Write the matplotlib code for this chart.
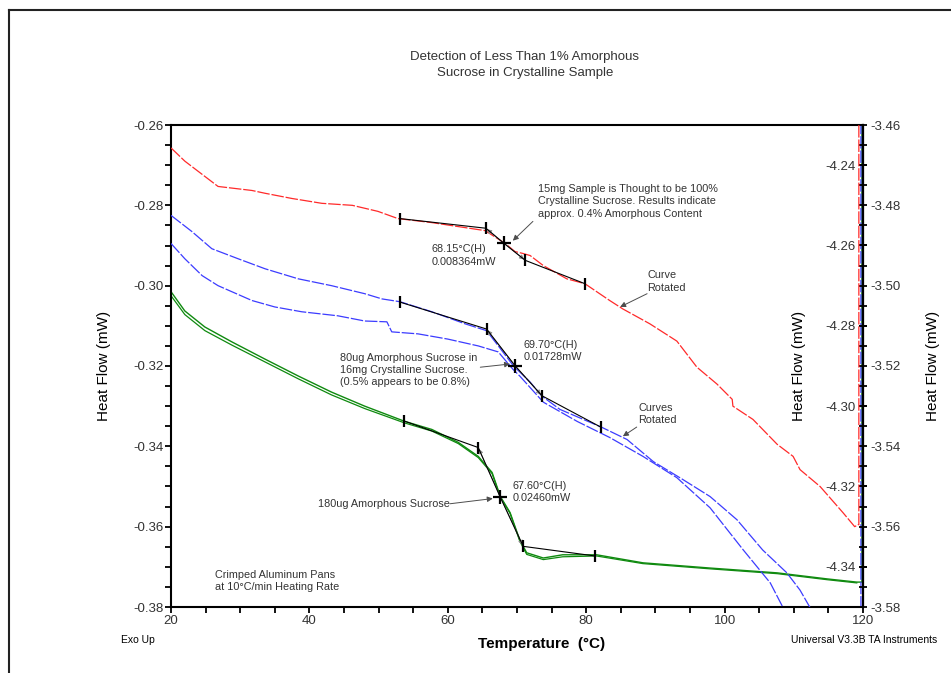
import matplotlib
matplotlib.use("Agg")
import matplotlib.pyplot as plt
from matplotlib.ticker import MultipleLocator, FormatStrFormatter

plt.rcParams['font.family'] = ['Liberation Sans', 'DejaVu Sans']

# 180ug amorphous sucrose (left axis, two runs)
green_t = [20, 22, 24.9, 28.8, 33.6, 38.4, 43.2, 48.0, 53.8, 57.7, 61.5, 64.4, 66.4, 67.6,
           69.0, 70.4, 71.4, 73.8, 76.6, 81.5, 88.2, 97.9, 107.6, 114.8, 119.1, 119.85, 119.85]
green_a = [-0.3015, -0.3063, -0.3103, -0.3140, -0.3183, -0.3225, -0.3265, -0.3300, -0.3338,
           -0.3358, -0.3390, -0.3425, -0.3465, -0.3525, -0.3565, -0.3633, -0.3665, -0.3678,
           -0.3670, -0.3670, -0.3690, -0.3703, -0.3715, -0.3730, -0.3738, -0.3738, -0.25]
green_b = [-0.3025, -0.3072, -0.3112, -0.3148, -0.3190, -0.3232, -0.3272, -0.3306, -0.3342,
           -0.3362, -0.3393, -0.3428, -0.3468, -0.3527, -0.3567, -0.3636, -0.3669, -0.3682,
           -0.3675, -0.3673, -0.3692, -0.3705, -0.3717, -0.3732, -0.3740, -0.3740, -0.3740]
green_marks_t = [53.7, 64.4, 67.6, 70.9, 81.3]
green_marks_y = [-0.3337, -0.3403, -0.3527, -0.3649, -0.3673]

# 80ug in 16mg crystalline (inner right axis, two runs)
blue_t_a = [20, 23, 25.9, 29.7, 33.6, 38.4, 43.2, 48.0, 50.5, 53.1, 57.7, 62.5, 65.6, 67.3,
            69.5, 71.9, 73.6, 76.2, 82.3, 85.9, 89.7, 94.0, 97.9, 101.8, 105.5, 109.0, 110.9,
            112.3, 113.0, 119.7, 119.7]
blue_a = [-4.2525, -4.2565, -4.2608, -4.2633, -4.2658, -4.2683, -4.2700, -4.2720, -4.2733,
          -4.2740, -4.2765, -4.2795, -4.2812, -4.2850, -4.2900, -4.2940, -4.2975, -4.3008,
          -4.3053, -4.3083, -4.3138, -4.3183, -4.3225, -4.3283, -4.3358, -4.3415, -4.3458,
          -4.3500, -4.3520, -4.3600, -4.2000]
blue_t_b = [20, 22, 24.5, 26.8, 31.7, 35.0, 38.9, 44.1, 48.0, 51.2, 51.9, 55.7, 60.0, 64.4,
            67.3, 69.4, 70.4, 73.8, 78.7, 83.4, 88.2, 93.1, 97.9, 102.7, 106.6, 108.4, 109.0]
blue_b = [-4.2595, -4.2633, -4.2675, -4.2700, -4.2737, -4.2753, -4.2765, -4.2775, -4.2788,
          -4.2790, -4.2815, -4.2820, -4.2833, -4.2850, -4.2865, -4.2908, -4.2925, -4.2990,
          -4.3038, -4.3078, -4.3125, -4.3178, -4.3253, -4.3358, -4.3440, -4.3500, -4.3520]
blue_marks_t = [53.1, 65.6, 69.7, 73.6, 82.2]
blue_marks_y = [-4.2741, -4.2808, -4.2899, -4.2974, -4.3053]

# 15mg crystalline sample (outer right axis)
red_t = [20, 22, 23.9, 26.8, 31.7, 33.6, 37.5, 41.8, 46.2, 49.9, 52.8, 57.7, 65.4, 68.3,
         69.7, 70.9, 71.9, 73.8, 77.2, 79.8, 83.4, 85.3, 89.2, 93.1, 96.0, 98.9, 101.1,
         101.2, 104.1, 107.6, 109.9, 110.9, 113.8, 117.1, 118.8, 119.3, 119.4, 119.4]
red_y = [-3.4657, -3.4690, -3.4715, -3.4753, -3.4763, -3.4770, -3.4783, -3.4795, -3.4800,
         -3.4815, -3.4833, -3.4843, -3.4863, -3.4895, -3.4915, -3.4920, -3.4925, -3.4950,
         -3.4983, -3.4995, -3.5037, -3.5058, -3.5095, -3.5138, -3.5203, -3.5245, -3.5283,
         -3.5300, -3.5333, -3.5395, -3.5425, -3.5458, -3.5500, -3.5565, -3.5600, -3.5595,
         -3.5595, -3.4500]
red_marks_t = [53.1, 65.5, 68.15, 71.2, 79.8]
red_marks_y = [-3.4833, -3.4857, -3.4895, -3.4937, -3.4995]

RED = '#ff2a2a'
BLUE = '#3c3cff'
GREEN = '#0f8a0f'
TXT = '#333333'

fig = plt.figure(figsize=(9.51, 6.73), dpi=100)
ax = fig.add_axes([171 / 951, 66 / 673, 692 / 951, 482 / 673])
ax2 = ax.twinx()
ax3 = ax.twinx()
for a in (ax2, ax3):
    a.patch.set_visible(False)

# left axis
ax.set_xlim(20, 120)
ax.set_ylim(-0.38, -0.26)
ax.xaxis.set_major_locator(MultipleLocator(20))
ax.xaxis.set_minor_locator(MultipleLocator(5))
ax.yaxis.set_major_locator(MultipleLocator(0.02))
ax.yaxis.set_minor_locator(MultipleLocator(0.005))
ax.yaxis.set_major_formatter(FormatStrFormatter('%.2f'))
ax.tick_params(which='both', direction='out', length=4, width=1.3, colors='black',
               labelcolor=TXT, labelsize=9.5, pad=1.5)
for s in ax.spines.values():
    s.set_linewidth(1.5)

# inner right axis: labels on the left of the right spine
ax2.set_ylim(-4.35, -4.23)
for s in ('right', 'top', 'bottom'):
    ax2.spines[s].set_visible(False)
ax2.spines['left'].set_position(('axes', 1.0))
ax2.spines['left'].set_linewidth(1.5)
ax2.yaxis.tick_left()
ax2.yaxis.set_label_position('left')
ax2.yaxis.set_major_locator(MultipleLocator(0.02))
ax2.yaxis.set_major_formatter(FormatStrFormatter('%.2f'))
ax2.tick_params(direction='inout', length=6, width=1.3, labelcolor=TXT, labelsize=9.5, pad=2)

# outer right axis
ax3.set_ylim(-3.58, -3.46)
for s in ('left', 'top', 'bottom'):
    ax3.spines[s].set_visible(False)
ax3.spines['right'].set_linewidth(1.5)
ax3.yaxis.set_major_locator(MultipleLocator(0.02))
ax3.yaxis.set_minor_locator(MultipleLocator(0.005))
ax3.yaxis.set_major_formatter(FormatStrFormatter('%.2f'))
ax3.tick_params(which='both', direction='inout', length=6, width=1.3, labelcolor=TXT,
                labelsize=9.5, pad=2)

# curves
ax.plot(green_t[:-2], green_b[:-2], color=GREEN, lw=0.9)
ax.plot(green_t, green_a, color=GREEN, lw=1.0)
ax2.plot(blue_t_b, blue_b, color=BLUE, lw=0.9, ls=(0, (10, 1.5)))
ax2.plot(blue_t_a, blue_a, color=BLUE, lw=0.9, ls=(0, (10, 1.5)))
ax3.plot(red_t, red_y, color=RED, lw=0.9, ls=(0, (10, 1.5)))


def onset(a, mt, my):
    a.plot(mt, my, color='black', lw=0.8, zorder=5)
    a.plot([mt[0], mt[1], mt[3], mt[4]], [my[0], my[1], my[3], my[4]], ls='none',
           marker='|', ms=9, mew=1.6, color='black', zorder=6)
    a.plot(mt[2], my[2], marker='+', ms=10, mew=1.6, color='black', zorder=6)
    for k in (1, 3):
        a.annotate('', xy=(mt[k], my[k]), xytext=(mt[2], my[2]),
                   arrowprops=dict(arrowstyle='-|>', color='0.55', lw=0.6,
                                   mutation_scale=7, shrinkA=0, shrinkB=1), zorder=4)


onset(ax, green_marks_t, green_marks_y)
onset(ax2, blue_marks_t, blue_marks_y)
onset(ax3, red_marks_t, red_marks_y)

# annotations (placed in left-axis units)
fs = 7.8
arr = dict(arrowstyle='-|>', color='0.3', lw=0.7, mutation_scale=8, shrinkA=0, shrinkB=0)
ax.text(57.7, -0.2925, '68.15\u00b0C(H)\n0.008364mW', fontsize=fs, color=TXT,
        va='center', linespacing=1.3)
ax.text(73.0, -0.2790, '15mg Sample is Thought to be 100%\nCrystalline Sucrose. Results indicate\n'
        'approx. 0.4% Amorphous Content', fontsize=fs, color=TXT, va='center', linespacing=1.3)
ax.annotate('', xy=(69.4, -0.2888), xytext=(72.3, -0.2840), arrowprops=arr)
ax.text(88.8, -0.2990, 'Curve\nRotated', fontsize=fs, color=TXT, va='center', linespacing=1.3)
ax.annotate('', xy=(84.9, -0.3053), xytext=(88.8, -0.3020), arrowprops=arr)
ax.text(70.9, -0.3162, '69.70\u00b0C(H)\n0.01728mW', fontsize=fs, color=TXT,
        va='center', linespacing=1.3)
ax.text(44.4, -0.3210, '80ug Amorphous Sucrose in\n16mg Crystalline Sucrose.\n'
        '(0.5% appears to be 0.8%)', fontsize=fs, color=TXT, va='center', linespacing=1.3)
ax.annotate('', xy=(69.0, -0.3195), xytext=(64.7, -0.3203), arrowprops=arr)
ax.text(87.5, -0.3320, 'Curves\nRotated', fontsize=fs, color=TXT, va='center', linespacing=1.3)
ax.annotate('', xy=(85.3, -0.3375), xytext=(87.3, -0.3352), arrowprops=arr)
ax.text(69.4, -0.3513, '67.60\u00b0C(H)\n0.02460mW', fontsize=fs, color=TXT,
        va='center', linespacing=1.3)
ax.text(60.3, -0.3543, '180ug Amorphous Sucrose', fontsize=fs, color=TXT,
        va='center', ha='right')
ax.annotate('', xy=(66.5, -0.3530), xytext=(60.3, -0.3543), arrowprops=arr)
ax.text(26.4, -0.3735, 'Crimped Aluminum Pans\nat 10\u00b0C/min Heating Rate', fontsize=fs,
        color=TXT, va='center', linespacing=1.3)

# axis labels
ax.set_ylabel('Heat Flow (mW)', fontsize=11, color='black')
ax.yaxis.set_label_coords(-0.0865, 0.5)
ax2.set_ylabel('Heat Flow (mW)', fontsize=11, color='black')
ax2.yaxis.set_label_coords(0.9176, 0.5)
ax3.set_ylabel('Heat Flow (mW)', fontsize=11, color='black')
ax3.yaxis.set_label_coords(1.091, 0.5)
ax.set_xlabel('Temperature  (\u00b0C)', fontsize=11, color='black', fontweight='bold')
ax.xaxis.set_label_coords(0.535, -0.062)

fig.text(525 / 951, 1 - 65 / 673, 'Detection of Less Than 1% Amorphous\nSucrose in Crystalline Sample',
         ha='center', va='center', fontsize=9.5, color=TXT, linespacing=1.35)
fig.text(121 / 951, 1 - 640 / 673, 'Exo Up', fontsize=7.5, color='black', va='center')
fig.text(937 / 951, 1 - 640 / 673, 'Universal V3.3B TA Instruments', fontsize=7.5,
         color='black', va='center', ha='right')

# page frame
fig.add_artist(plt.Line2D([9 / 951, 1], [1 - 10 / 673, 1 - 10 / 673], color='#222222', lw=1.5))
fig.add_artist(plt.Line2D([9 / 951, 9 / 951], [0, 1 - 10 / 673], color='#222222', lw=1.5))

fig.savefig('out.png', dpi=100)
